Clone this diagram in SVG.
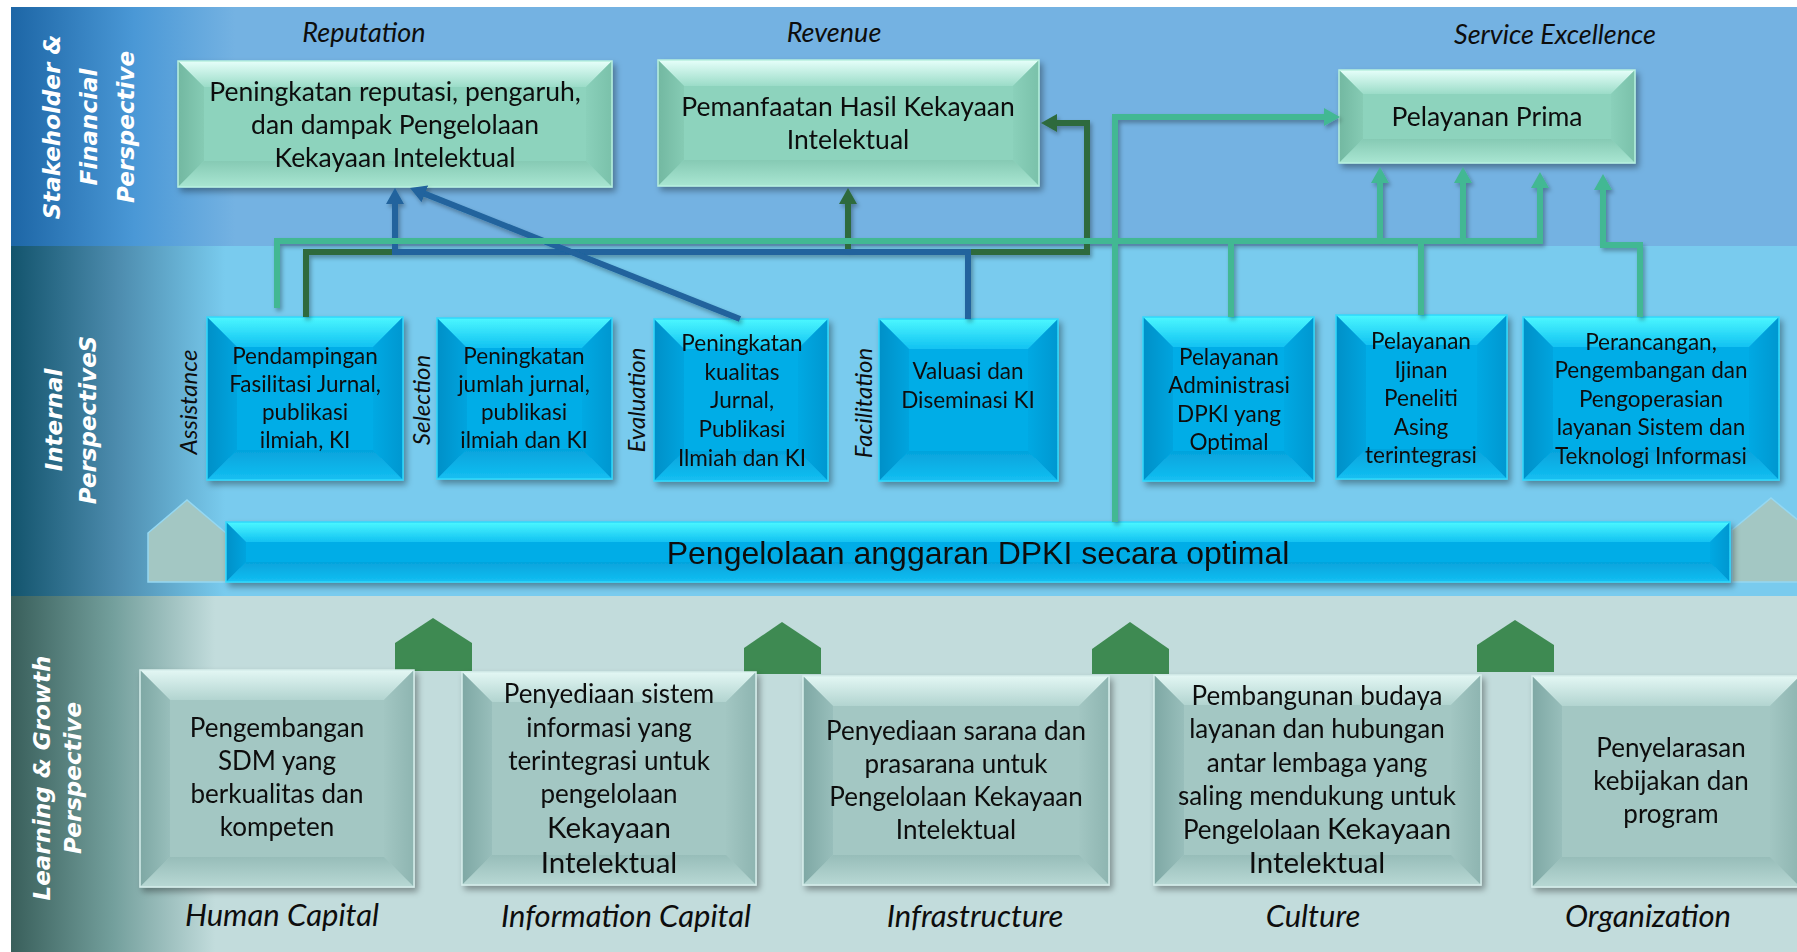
<svg xmlns="http://www.w3.org/2000/svg" width="1797" height="952" viewBox="0 0 1797 952">
<style>
.box{filter:url(#sh)}
.mint .bs{fill:#8dd3bd}.mint .tp{fill:url(#gMT)}.mint .lf{fill:url(#gML)}.mint .rt{fill:url(#gMR)}.mint .bt{fill:url(#gMB)}.mint .ed{fill:none;stroke:#b8f0de;stroke-width:1.5}
.cyan .bs{fill:#04ade7}.cyan .tp{fill:url(#gCT)}.cyan .lf{fill:url(#gCL)}.cyan .rt{fill:url(#gCR)}.cyan .bt{fill:url(#gCB)}.cyan .ed{fill:none;stroke:#30d8fb;stroke-width:1.5}
.teal .bs{fill:#a3c7c3}.teal .tp{fill:url(#gTT)}.teal .lf{fill:url(#gTL)}.teal .rt{fill:url(#gTR)}.teal .bt{fill:url(#gTB)}.teal .ed{fill:none;stroke:#d6eeeb;stroke-width:1.5}
.t{font-family:Lato,"Open Sans",sans-serif;fill:#0d0d0d;text-anchor:middle}
.t1{font-size:26.5px}.t2{font-size:22.5px}.t3{font-size:26px}.big{font-size:29.5px}
.lab{font-family:Lato,"Open Sans",sans-serif;font-style:italic;fill:#0d0d0d;text-anchor:middle}
.lab1{font-size:27px}.lab2{font-size:24px}.lab3{font-size:31px}
.persp{font-family:"DejaVu Sans",Verdana,sans-serif;font-weight:700;font-style:italic;font-size:23px;fill:#ffffff;text-anchor:middle}
.bar-t{font-family:"Liberation Sans",Arial,sans-serif;font-size:32px;fill:#0d0d0d;text-anchor:middle}
.ln{fill:none;stroke-width:6;stroke-linejoin:miter}
.lg{stroke:#43b893}.dg{stroke:#2e6b3d}.bl{stroke:#20649d}
.house-g{fill:#3e8a52}
.house-p{fill:#a3c7c3;stroke:#95d8f2;stroke-width:1.5}
</style>
<defs>
<filter id="sh" x="-10%" y="-10%" width="125%" height="130%"><feDropShadow dx="3" dy="4" stdDeviation="3" flood-color="#000" flood-opacity="0.35"/></filter>
<filter id="lsh" filterUnits="userSpaceOnUse" x="0" y="0" width="1797" height="952"><feDropShadow dx="2" dy="3" stdDeviation="2" flood-color="#000" flood-opacity="0.3"/></filter>
<linearGradient id="gB1" gradientUnits="userSpaceOnUse" x1="11" y1="0" x2="235" y2="0"><stop offset="0" stop-color="#1d66a6"/><stop offset="0.55" stop-color="#4a98d6"/><stop offset="1" stop-color="#74b2e2"/></linearGradient>
<linearGradient id="gB2" gradientUnits="userSpaceOnUse" x1="11" y1="0" x2="225" y2="0"><stop offset="0" stop-color="#13546d"/><stop offset="0.5" stop-color="#4d8cae"/><stop offset="1" stop-color="#79cbee"/></linearGradient>
<linearGradient id="gB3" gradientUnits="userSpaceOnUse" x1="11" y1="0" x2="215" y2="0"><stop offset="0" stop-color="#395f5b"/><stop offset="0.5" stop-color="#739f9c"/><stop offset="1" stop-color="#c2dcdc"/></linearGradient>
<linearGradient id="gMT" x1="0" y1="0" x2="0" y2="1"><stop offset="0" stop-color="#e6fffa"/><stop offset="1" stop-color="#9bdcc8"/></linearGradient>
<linearGradient id="gML" x1="0" y1="0" x2="1" y2="0"><stop offset="0" stop-color="#72b8a1"/><stop offset="1" stop-color="#86cbb4"/></linearGradient>
<linearGradient id="gMR" x1="0" y1="0" x2="1" y2="0"><stop offset="0" stop-color="#8ad0ba"/><stop offset="1" stop-color="#7ac1aa"/></linearGradient>
<linearGradient id="gMB" x1="0" y1="0" x2="0" y2="1"><stop offset="0" stop-color="#86cab4"/><stop offset="1" stop-color="#a9e6d2"/></linearGradient>
<linearGradient id="gCT" x1="0" y1="0" x2="0" y2="1"><stop offset="0" stop-color="#4cf7ff"/><stop offset="1" stop-color="#12c2f2"/></linearGradient>
<linearGradient id="gCL" x1="0" y1="0" x2="1" y2="0"><stop offset="0" stop-color="#0590c8"/><stop offset="1" stop-color="#04a4de"/></linearGradient>
<linearGradient id="gCR" x1="0" y1="0" x2="1" y2="0"><stop offset="0" stop-color="#04a9e3"/><stop offset="1" stop-color="#0397d0"/></linearGradient>
<linearGradient id="gCB" x1="0" y1="0" x2="0" y2="1"><stop offset="0" stop-color="#05a3dc"/><stop offset="1" stop-color="#14bff2"/></linearGradient>
<linearGradient id="gTT" x1="0" y1="0" x2="0" y2="1"><stop offset="0" stop-color="#e3f7f4"/><stop offset="1" stop-color="#b2d4d0"/></linearGradient>
<linearGradient id="gTL" x1="0" y1="0" x2="1" y2="0"><stop offset="0" stop-color="#7ea8a4"/><stop offset="1" stop-color="#98bebb"/></linearGradient>
<linearGradient id="gTR" x1="0" y1="0" x2="1" y2="0"><stop offset="0" stop-color="#a2c6c2"/><stop offset="1" stop-color="#8eb5b1"/></linearGradient>
<linearGradient id="gTB" x1="0" y1="0" x2="0" y2="1"><stop offset="0" stop-color="#97bdb9"/><stop offset="1" stop-color="#b8d8d4"/></linearGradient>
<marker id="aLG" markerUnits="userSpaceOnUse" markerWidth="16" markerHeight="18" viewBox="0 0 16 18" refX="6" refY="9" orient="auto"><path d="M0,0 L16,9 L0,18 z" fill="#43b893"/></marker>
<marker id="aDG" markerUnits="userSpaceOnUse" markerWidth="16" markerHeight="18" viewBox="0 0 16 18" refX="6" refY="9" orient="auto"><path d="M0,0 L16,9 L0,18 z" fill="#2e6b3d"/></marker>
<marker id="aBL" markerUnits="userSpaceOnUse" markerWidth="16" markerHeight="18" viewBox="0 0 16 18" refX="6" refY="9" orient="auto"><path d="M0,0 L16,9 L0,18 z" fill="#20649d"/></marker>
</defs>

<rect x="0" y="0" width="1797" height="952" fill="#ffffff"/>
<g id="bands">
<rect x="11" y="7" width="1786" height="239" fill="#74b2e2"/>
<rect x="11" y="7" width="230" height="239" fill="url(#gB1)"/>
<rect x="11" y="246" width="1786" height="350" fill="#79cbee"/>
<rect x="11" y="246" width="220" height="350" fill="url(#gB2)"/>
<rect x="11" y="596" width="1786" height="356" fill="#c2dcdc"/>
<rect x="11" y="596" width="210" height="356" fill="url(#gB3)"/>
</g>

<g id="perspective-labels">
<text class="persp" transform="rotate(-90 60 127)" x="60" y="127">Stakeholder &amp;</text>
<text class="persp" transform="rotate(-90 97 127)" x="97" y="127">Financial</text>
<text class="persp" transform="rotate(-90 134 127)" x="134" y="127">Perspective</text>
<text class="persp" transform="rotate(-90 62 420)" x="62" y="420">Internal</text>
<text class="persp" transform="rotate(-90 96 420)" x="96" y="420">PerspectiveS</text>
<text class="persp" transform="rotate(-90 50 778)" x="50" y="778">Learning &amp; Growth</text>
<text class="persp" transform="rotate(-90 81 778)" x="81" y="778">Perspective</text>
</g>

<g id="group-labels">
<text class="lab lab1" x="364" y="42">Reputation</text>
<text class="lab lab1" x="834" y="42">Revenue</text>
<text class="lab lab1" x="1555" y="44">Service Excellence</text>
<text class="lab lab2" transform="rotate(-90 197 402)" x="197" y="402">Assistance</text>
<text class="lab lab2" transform="rotate(-90 430 400)" x="430" y="400">Selection</text>
<text class="lab lab2" transform="rotate(-90 645 400)" x="645" y="400">Evaluation</text>
<text class="lab lab2" transform="rotate(-90 872 403)" x="872" y="403">Facilitation</text>
<text class="lab lab3" x="282" y="926">Human Capital</text>
<text class="lab lab3" x="626" y="927">Information Capital</text>
<text class="lab lab3" x="975" y="927">Infrastructure</text>
<text class="lab lab3" x="1313" y="927">Culture</text>
<text class="lab lab3" x="1648" y="927">Organization</text>
</g>

<g id="houses">
<polygon class="house-p" points="148,582 148,533 187,500 226,533 226,582"/>
<polygon class="house-p" points="1732,582 1732,530 1771,498 1810,530 1810,582"/>
<polygon class="house-g" points="395,671 395,643 433,618 472,643 472,671"/>
<polygon class="house-g" points="744,674 744,648 782,622 821,648 821,674"/>
<polygon class="house-g" points="1092,674 1092,649 1130,622 1169,649 1169,674"/>
<polygon class="house-g" points="1477,672 1477,645 1515,620 1554,645 1554,672"/>
</g>

<g id="n-reputation" class="box mint">
<rect class="bs" x="178" y="61" width="434" height="126"/>
<polygon class="tp" points="178,61 612,61 586,87 204,87"/>
<polygon class="lf" points="178,61 204,87 204,161 178,187"/>
<polygon class="rt" points="612,61 612,187 586,161 586,87"/>
<polygon class="bt" points="178,187 204,161 586,161 612,187"/>
<rect class="ed" x="178" y="61" width="434" height="126"/>
<text class="t t1"><tspan x="395" y="101">Peningkatan reputasi, pengaruh,</tspan><tspan x="395" y="134">dan dampak Pengelolaan</tspan><tspan x="395" y="167">Kekayaan Intelektual</tspan></text>
</g>

<g id="n-revenue" class="box mint">
<rect class="bs" x="658" y="60" width="381" height="126"/>
<polygon class="tp" points="658,60 1039,60 1013,86 684,86"/>
<polygon class="lf" points="658,60 684,86 684,160 658,186"/>
<polygon class="rt" points="1039,60 1039,186 1013,160 1013,86"/>
<polygon class="bt" points="658,186 684,160 1013,160 1039,186"/>
<rect class="ed" x="658" y="60" width="381" height="126"/>
<text class="t t1"><tspan x="848" y="116">Pemanfaatan Hasil Kekayaan</tspan><tspan x="848" y="149">Intelektual</tspan></text>
</g>

<g id="n-prima" class="box mint">
<rect class="bs" x="1339" y="70" width="296" height="93"/>
<polygon class="tp" points="1339,70 1635,70 1611,94 1363,94"/>
<polygon class="lf" points="1339,70 1363,94 1363,139 1339,163"/>
<polygon class="rt" points="1635,70 1635,163 1611,139 1611,94"/>
<polygon class="bt" points="1339,163 1363,139 1611,139 1635,163"/>
<rect class="ed" x="1339" y="70" width="296" height="93"/>
<text class="t t1" x="1487" y="126">Pelayanan Prima</text>
</g>

<g id="n-pendampingan" class="box cyan">
<rect class="bs" x="207" y="317" width="196" height="163"/>
<polygon class="tp" points="207,317 403,317 373,347 237,347"/>
<polygon class="lf" points="207,317 237,347 237,450 207,480"/>
<polygon class="rt" points="403,317 403,480 373,450 373,347"/>
<polygon class="bt" points="207,480 237,450 373,450 403,480"/>
<rect class="ed" x="207" y="317" width="196" height="163"/>
<text class="t t2"><tspan x="305" y="364">Pendampingan</tspan><tspan x="305" y="392">Fasilitasi Jurnal,</tspan><tspan x="305" y="420">publikasi</tspan><tspan x="305" y="448">ilmiah, KI</tspan></text>
</g>

<g id="n-jumlah" class="box cyan">
<rect class="bs" x="437" y="318" width="175" height="161"/>
<polygon class="tp" points="437,318 612,318 582,348 467,348"/>
<polygon class="lf" points="437,318 467,348 467,449 437,479"/>
<polygon class="rt" points="612,318 612,479 582,449 582,348"/>
<polygon class="bt" points="437,479 467,449 582,449 612,479"/>
<rect class="ed" x="437" y="318" width="175" height="161"/>
<text class="t t2"><tspan x="524" y="364">Peningkatan</tspan><tspan x="524" y="392">jumlah jurnal,</tspan><tspan x="524" y="420">publikasi</tspan><tspan x="524" y="448">ilmiah dan KI</tspan></text>
</g>

<g id="n-kualitas" class="box cyan">
<rect class="bs" x="654" y="319" width="174" height="162"/>
<polygon class="tp" points="654,319 828,319 798,349 684,349"/>
<polygon class="lf" points="654,319 684,349 684,451 654,481"/>
<polygon class="rt" points="828,319 828,481 798,451 798,349"/>
<polygon class="bt" points="654,481 684,451 798,451 828,481"/>
<rect class="ed" x="654" y="319" width="174" height="162"/>
<text class="t t2"><tspan x="742" y="351">Peningkatan</tspan><tspan x="742" y="380">kualitas</tspan><tspan x="742" y="408">Jurnal,</tspan><tspan x="742" y="437">Publikasi</tspan><tspan x="742" y="466">Ilmiah dan KI</tspan></text>
</g>

<g id="n-valuasi" class="box cyan">
<rect class="bs" x="879" y="319" width="179" height="162"/>
<polygon class="tp" points="879,319 1058,319 1028,349 909,349"/>
<polygon class="lf" points="879,319 909,349 909,451 879,481"/>
<polygon class="rt" points="1058,319 1058,481 1028,451 1028,349"/>
<polygon class="bt" points="879,481 909,451 1028,451 1058,481"/>
<rect class="ed" x="879" y="319" width="179" height="162"/>
<text class="t t2"><tspan x="968" y="379">Valuasi dan</tspan><tspan x="968" y="408">Diseminasi KI</tspan></text>
</g>

<g id="n-administrasi" class="box cyan">
<rect class="bs" x="1143" y="317" width="171" height="164"/>
<polygon class="tp" points="1143,317 1314,317 1284,347 1173,347"/>
<polygon class="lf" points="1143,317 1173,347 1173,451 1143,481"/>
<polygon class="rt" points="1314,317 1314,481 1284,451 1284,347"/>
<polygon class="bt" points="1143,481 1173,451 1284,451 1314,481"/>
<rect class="ed" x="1143" y="317" width="171" height="164"/>
<text class="t t2"><tspan x="1229" y="365">Pelayanan</tspan><tspan x="1229" y="393">Administrasi</tspan><tspan x="1229" y="422">DPKI yang</tspan><tspan x="1229" y="450">Optimal</tspan></text>
</g>

<g id="n-ijinan" class="box cyan">
<rect class="bs" x="1336" y="315" width="171" height="164"/>
<polygon class="tp" points="1336,315 1507,315 1477,345 1366,345"/>
<polygon class="lf" points="1336,315 1366,345 1366,449 1336,479"/>
<polygon class="rt" points="1507,315 1507,479 1477,449 1477,345"/>
<polygon class="bt" points="1336,479 1366,449 1477,449 1507,479"/>
<rect class="ed" x="1336" y="315" width="171" height="164"/>
<text class="t t2"><tspan x="1421" y="349">Pelayanan</tspan><tspan x="1421" y="378">Ijinan</tspan><tspan x="1421" y="406">Peneliti</tspan><tspan x="1421" y="435">Asing</tspan><tspan x="1421" y="463">terintegrasi</tspan></text>
</g>

<g id="n-perancangan" class="box cyan">
<rect class="bs" x="1523" y="317" width="256" height="163"/>
<polygon class="tp" points="1523,317 1779,317 1749,347 1553,347"/>
<polygon class="lf" points="1523,317 1553,347 1553,450 1523,480"/>
<polygon class="rt" points="1779,317 1779,480 1749,450 1749,347"/>
<polygon class="bt" points="1523,480 1553,450 1749,450 1779,480"/>
<rect class="ed" x="1523" y="317" width="256" height="163"/>
<text class="t t2"><tspan x="1651" y="350">Perancangan,</tspan><tspan x="1651" y="378">Pengembangan dan</tspan><tspan x="1651" y="407">Pengoperasian</tspan><tspan x="1651" y="435">layanan Sistem dan</tspan><tspan x="1651" y="464">Teknologi Informasi</tspan></text>
</g>

<g id="n-anggaran" class="box cyan">
<rect class="bs" x="226" y="522" width="1504" height="60"/>
<polygon class="tp" points="226,522 1730,522 1710,542 246,542"/>
<polygon class="lf" points="226,522 246,542 246,562 226,582"/>
<polygon class="rt" points="1730,522 1730,582 1710,562 1710,542"/>
<polygon class="bt" points="226,582 246,562 1710,562 1730,582"/>
<rect class="ed" x="226" y="522" width="1504" height="60"/>
<text class="bar-t" x="978" y="564">Pengelolaan anggaran DPKI secara optimal</text>
</g>

<g id="n-sdm" class="box teal">
<rect class="bs" x="140" y="670" width="274" height="217"/>
<polygon class="tp" points="140,670 414,670 384,700 170,700"/>
<polygon class="lf" points="140,670 170,700 170,857 140,887"/>
<polygon class="rt" points="414,670 414,887 384,857 384,700"/>
<polygon class="bt" points="140,887 170,857 384,857 414,887"/>
<rect class="ed" x="140" y="670" width="274" height="217"/>
<text class="t t3"><tspan x="277" y="737">Pengembangan</tspan><tspan x="277" y="770">SDM yang</tspan><tspan x="277" y="803">berkualitas dan</tspan><tspan x="277" y="836">kompeten</tspan></text>
</g>

<g id="n-sistem" class="box teal">
<rect class="bs" x="462" y="672" width="294" height="213"/>
<polygon class="tp" points="462,672 756,672 726,702 492,702"/>
<polygon class="lf" points="462,672 492,702 492,855 462,885"/>
<polygon class="rt" points="756,672 756,885 726,855 726,702"/>
<polygon class="bt" points="462,885 492,855 726,855 756,885"/>
<rect class="ed" x="462" y="672" width="294" height="213"/>
<text class="t t3"><tspan x="609" y="703">Penyediaan sistem</tspan><tspan x="609" y="737">informasi yang</tspan><tspan x="609" y="770">terintegrasi untuk</tspan><tspan x="609" y="803">pengelolaan</tspan><tspan class="big" x="609" y="838">Kekayaan</tspan><tspan class="big" x="609" y="873">Intelektual</tspan></text>
</g>

<g id="n-sarana" class="box teal">
<rect class="bs" x="803" y="676" width="306" height="209"/>
<polygon class="tp" points="803,676 1109,676 1079,706 833,706"/>
<polygon class="lf" points="803,676 833,706 833,855 803,885"/>
<polygon class="rt" points="1109,676 1109,885 1079,855 1079,706"/>
<polygon class="bt" points="803,885 833,855 1079,855 1109,885"/>
<rect class="ed" x="803" y="676" width="306" height="209"/>
<text class="t t3"><tspan x="956" y="740">Penyediaan sarana dan</tspan><tspan x="956" y="773">prasarana untuk</tspan><tspan x="956" y="806">Pengelolaan Kekayaan</tspan><tspan x="956" y="839">Intelektual</tspan></text>
</g>

<g id="n-budaya" class="box teal">
<rect class="bs" x="1154" y="675" width="327" height="210"/>
<polygon class="tp" points="1154,675 1481,675 1451,705 1184,705"/>
<polygon class="lf" points="1154,675 1184,705 1184,855 1154,885"/>
<polygon class="rt" points="1481,675 1481,885 1451,855 1451,705"/>
<polygon class="bt" points="1154,885 1184,855 1451,855 1481,885"/>
<rect class="ed" x="1154" y="675" width="327" height="210"/>
<text class="t t3"><tspan x="1317" y="705">Pembangunan budaya</tspan><tspan x="1317" y="738">layanan dan hubungan</tspan><tspan x="1317" y="772">antar lembaga yang</tspan><tspan x="1317" y="805">saling mendukung untuk</tspan><tspan x="1317" y="839">Pengelolaan <tspan class="big">Kekayaan</tspan></tspan><tspan class="big" x="1317" y="873">Intelektual</tspan></text>
</g>

<g id="n-kebijakan" class="box teal">
<rect class="bs" x="1532" y="676" width="268" height="211"/>
<polygon class="tp" points="1532,676 1800,676 1770,706 1562,706"/>
<polygon class="lf" points="1532,676 1562,706 1562,857 1532,887"/>
<polygon class="rt" points="1800,676 1800,887 1770,857 1770,706"/>
<polygon class="bt" points="1532,887 1562,857 1770,857 1800,887"/>
<rect class="ed" x="1532" y="676" width="268" height="211"/>
<text class="t t3"><tspan x="1671" y="757">Penyelarasan</tspan><tspan x="1671" y="790">kebijakan dan</tspan><tspan x="1671" y="823">program</tspan></text>
</g>

<g id="connectors" filter="url(#lsh)">
<path class="ln dg" d="M306,317 V252 H1087 V123 H1051" marker-end="url(#aDG)"/>
<path class="ln dg" d="M848,252 V198" marker-end="url(#aDG)"/>
<path class="ln bl" d="M968,319 V252 H395 V198" marker-end="url(#aBL)"/>
<path class="ln bl" d="M740,319 L419.3,191.6" marker-end="url(#aBL)"/>
<path class="ln lg" d="M277,308 V241 H1540 V182" marker-end="url(#aLG)"/>
<path class="ln lg" d="M1380,241 V177" marker-end="url(#aLG)"/>
<path class="ln lg" d="M1463,241 V177" marker-end="url(#aLG)"/>
<path class="ln lg" d="M1231,317 V241"/>
<path class="ln lg" d="M1421,315 V241"/>
<path class="ln lg" d="M1640,317 V245 H1603 V184" marker-end="url(#aLG)"/>
<path class="ln lg" d="M1115,522 V117 H1330" marker-end="url(#aLG)"/>
</g>
</svg>
